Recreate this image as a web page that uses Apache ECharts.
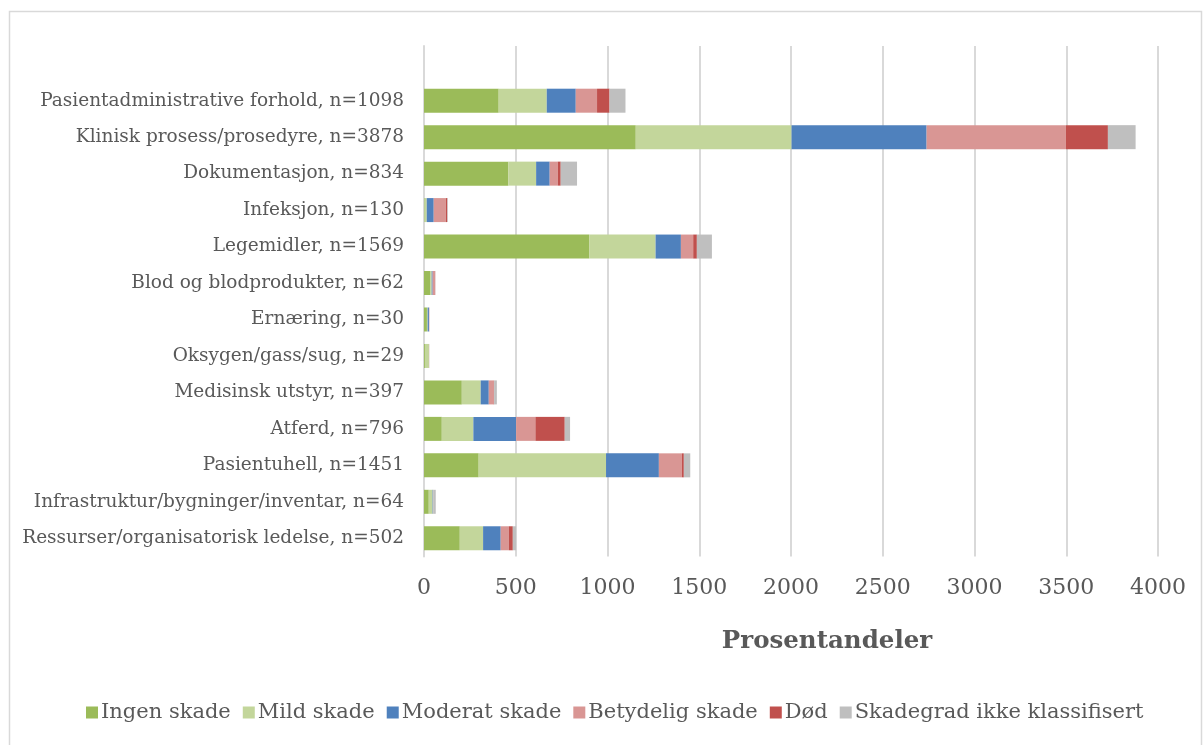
<!DOCTYPE html>
<html>
<head>
<meta charset="utf-8">
<script src="https://cdn.jsdelivr.net/npm/echarts@6/dist/echarts.min.js"></script>
<style>
  html, body { margin: 0; padding: 0; background: #ffffff; }
  #chart { width: 1204px; height: 745px; }
</style>
</head>
<body>
<div id="chart"></div>
<script>
// Hendelseskategorier (ovenfra og ned)
const categories = [
  'Pasientadministrative forhold, n=1098',
  'Klinisk prosess/prosedyre, n=3878',
  'Dokumentasjon, n=834',
  'Infeksjon, n=130',
  'Legemidler, n=1569',
  'Blod og blodprodukter, n=62',
  'Ernæring, n=30',
  'Oksygen/gass/sug, n=29',
  'Medisinsk utstyr, n=397',
  'Atferd, n=796',
  'Pasientuhell, n=1451',
  'Infrastruktur/bygninger/inventar, n=64',
  'Ressurser/organisatorisk ledelse, n=502'
];

// Antall meldinger per skadegrad
const ingenSkade     = [407, 1154, 460, 3, 900, 33, 16, 5, 206, 97, 298, 26, 195];
const mildSkade      = [262, 849, 151, 12, 362, 9, 4, 22, 103, 172, 694, 21, 127];
const moderatSkade   = [158, 736, 74, 38, 138, 5, 7, 0, 44, 233, 288, 2, 96];
const betydeligSkade = [116, 759, 44, 66, 67, 13, 2, 1, 27, 105, 125, 1, 44];
const dod            = [68, 229, 16, 8, 20, 1, 0, 0, 2, 160, 11, 0, 22];
const ikkeKlassifisert = [87, 151, 89, 3, 82, 1, 1, 1, 15, 29, 35, 14, 18];

const seriesNames = ['Ingen skade', 'Mild skade', 'Moderat skade', 'Betydelig skade', 'Død', 'Skadegrad ikke klassifisert'];
const seriesData = [ingenSkade, mildSkade, moderatSkade, betydeligSkade, dod, ikkeKlassifisert];
const seriesColors = ['#9BBB59', '#C3D69B', '#4F81BD', '#D99694', '#C0504D', '#BFBFBF'];

const xTicks = { min: 0, max: 4000, interval: 500 };
const xTitle = 'Prosentandeler';

const textColor = '#595959';
const serif = '"DejaVu Serif", serif';

const chart = echarts.init(document.getElementById('chart'), null, { renderer: 'canvas' });

chart.setOption({
  backgroundColor: '#ffffff',
  animation: false,
  title: {
    text: xTitle,
    left: 822,
    top: 624,
    textAlign: 'center',
    textStyle: { fontFamily: serif, fontWeight: 'bold', fontSize: 24.5, color: textColor }
  },
  graphic: [{
    type: 'rect',
    shape: { x: 9.5, y: 11.5, width: 1192, height: 760 },
    style: { fill: null, stroke: '#d9d9d9', lineWidth: 1.5 },
    silent: true
  }],
  legend: {
    bottom: 17,
    left: 81,
    itemWidth: 12,
    itemHeight: 12,
    itemGap: 12,
    icon: 'rect',
    textStyle: { fontFamily: serif, fontSize: 21, color: textColor, padding: [0, 0, 0, -2] },
    data: seriesNames
  },
  grid: { left: 424, right: 46, top: 46, bottom: 188.5, containLabel: false },
  xAxis: {
    type: 'value',
    min: xTicks.min,
    max: xTicks.max,
    interval: xTicks.interval,
    axisLine: { show: false },
    axisTick: { show: false },
    axisLabel: {
      fontFamily: serif, fontSize: 22, color: textColor, margin: 21,
      formatter: (v) => String(v)
    },
    splitLine: { lineStyle: { color: '#d9d9d9', width: 2 } }
  },
  yAxis: {
    type: 'category',
    data: categories,
    inverse: true,
    min: -1,
    axisLine: { show: true, lineStyle: { color: '#d9d9d9', width: 2 } },
    axisTick: { show: false },
    axisLabel: { fontFamily: serif, fontSize: 18.5, color: textColor, margin: 20 }
  },
  series: seriesNames.map((name, i) => ({
    name: name,
    type: 'bar',
    stack: 'total',
    barWidth: 24,
    itemStyle: { color: seriesColors[i] },
    data: seriesData[i]
  }))
});
</script>
</body>
</html>
